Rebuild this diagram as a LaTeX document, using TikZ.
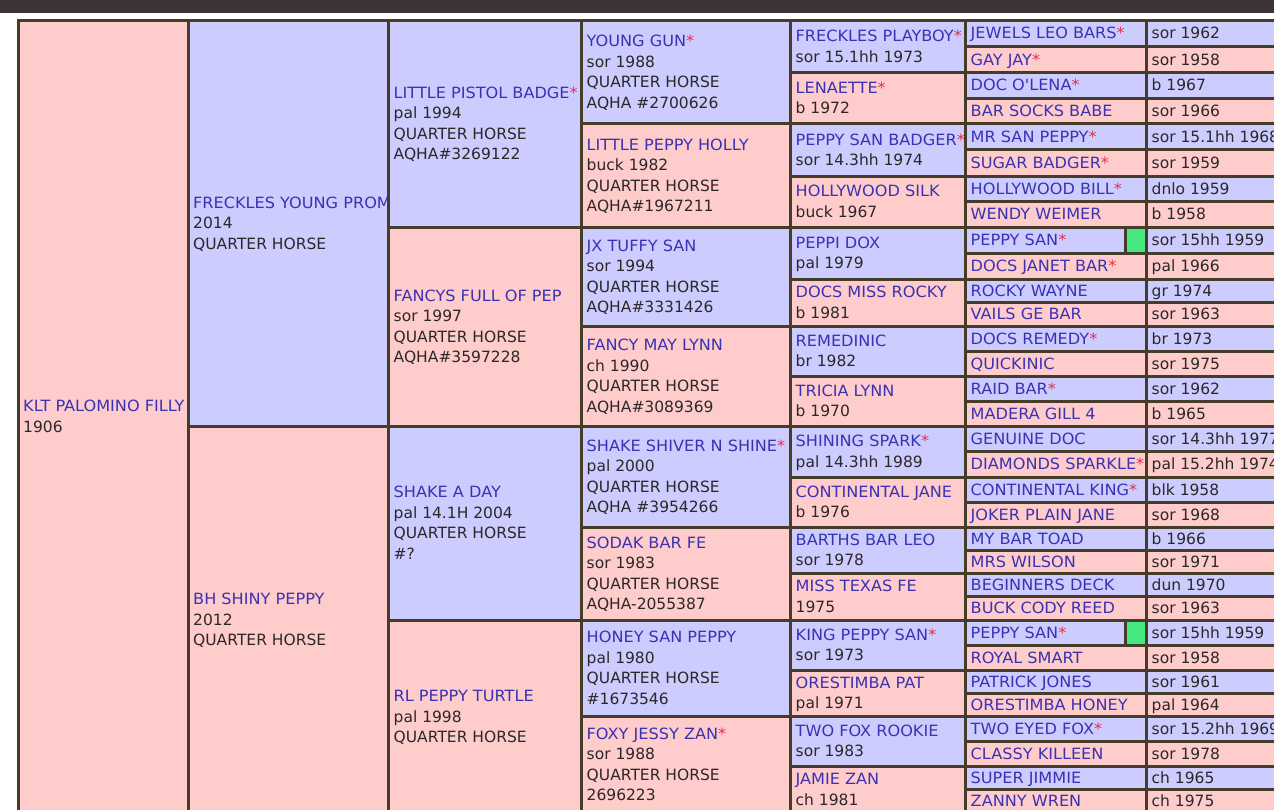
\documentclass[tikz,border=0pt]{standalone}
\usepackage{fontspec}
\setmainfont{DejaVu Sans}
\newfontfamily\namefont{DejaVu Sans}[FakeStretch=1.04]
\definecolor{sirefill}{RGB}{204,204,255}
\definecolor{damfill}{RGB}{255,204,204}
\definecolor{rule}{RGB}{70,60,42}
\definecolor{namecol}{RGB}{58,50,180}
\definecolor{infocol}{RGB}{44,40,40}
\definecolor{starcol}{RGB}{228,48,76}
\definecolor{topbar}{RGB}{60,52,57}
\definecolor{markgreen}{RGB}{70,232,128}
\newcommand\redstar{\textcolor{starcol}{*}}
\newcommand\hname[1]{{\namefont\textcolor{namecol}{#1}}}
\tikzset{
  cell/.style={draw=rule, line width=3pt},
  sire/.style={cell, fill=sirefill},
  dam/.style={cell, fill=damfill},
  info/.style={anchor=base west, align=left, inner sep=0pt, text=infocol,
    font=\fontsize{15.5}{20.5}\selectfont},
}
\begin{document}
\begin{tikzpicture}[x=1pt,y=-1pt]
\useasboundingbox (0,0) rectangle (1274,809);
\clip (0,0) rectangle (1274,809);
\fill[white] (0,0) rectangle (1274,809);
\fill[topbar] (0,0) rectangle (1274,13);

% the filly (last baseline = middle + ((lines-1)*20.5+11.3)/2)
\draw[dam] (18,20) rectangle (188,813);
\node[info] (filly) at (23,432.4) {\hname{KLT PALOMINO FILLY}\\1906};

% parents
\foreach \ya/\yb/\kind/\lab [count=\i] in {
  20/426/sire/{\hname{FRECKLES YOUNG PROM}\\2014\\QUARTER HORSE},
  426/813/dam/{\hname{BH SHINY PEPPY}\\2012\\QUARTER HORSE}}
{
  \draw[\kind] (188,\ya) rectangle (388,\yb);
  \node[info] (par\i) at (193,{(\ya+\yb)/2+26.15}) {\lab};
}

% grandparents
\foreach \ya/\yb/\kind/\n/\lab [count=\i] in {
  20/227/sire/4/{\hname{LITTLE PISTOL BADGE\redstar}\\pal 1994\\QUARTER HORSE\\AQHA\#3269122},
  227/426/dam/4/{\hname{FANCYS FULL OF PEP}\\sor 1997\\QUARTER HORSE\\AQHA\#3597228},
  426/620/sire/4/{\hname{SHAKE A DAY}\\pal 14.1H 2004\\QUARTER HORSE\\\#?},
  620/813/dam/3/{\hname{RL PEPPY TURTLE}\\pal 1998\\QUARTER HORSE}}
{
  \draw[\kind] (388,\ya) rectangle (581.5,\yb);
  \node[info] (gp\i) at (393.5,{(\ya+\yb)/2+((\n-1)*20.5+11.3)/2}) {\lab};
}

% great-grandparents
\foreach \ya/\yb/\kind/\lab [count=\i] in {
  20/123.5/sire/{\hname{YOUNG GUN\redstar}\\sor 1988\\QUARTER HORSE\\AQHA \#2700626},
  123.5/227/dam/{\hname{LITTLE PEPPY HOLLY}\\buck 1982\\QUARTER HORSE\\AQHA\#1967211},
  227/326/sire/{\hname{JX TUFFY SAN}\\sor 1994\\QUARTER HORSE\\AQHA\#3331426},
  326/426/dam/{\hname{FANCY MAY LYNN}\\ch 1990\\QUARTER HORSE\\AQHA\#3089369},
  426/527/sire/{\hname{SHAKE SHIVER N SHINE\redstar}\\pal 2000\\QUARTER HORSE\\AQHA \#3954266},
  527/620/dam/{\hname{SODAK BAR FE}\\sor 1983\\QUARTER HORSE\\AQHA-2055387},
  620/716/sire/{\hname{HONEY SAN PEPPY}\\pal 1980\\QUARTER HORSE\\\#1673546},
  716/813/dam/{\hname{FOXY JESSY ZAN\redstar}\\sor 1988\\QUARTER HORSE\\2696223}}
{
  \draw[\kind] (581.5,\ya) rectangle (790.5,\yb);
  \node[info] (ggp\i) at (586.5,{(\ya+\yb)/2+36.4}) {\lab};
}

% 4th generation
\foreach \ya/\yb/\lab [count=\i] in {
  20/72.5/{\hname{FRECKLES PLAYBOY\redstar}\\sor 15.1hh 1973},
  72.5/123.5/{\hname{LENAETTE\redstar}\\b 1972},
  123.5/176/{\hname{PEPPY SAN BADGER\redstar}\\sor 14.3hh 1974},
  176/227/{\hname{HOLLYWOOD SILK}\\buck 1967},
  227/279/{\hname{PEPPI DOX}\\pal 1979},
  279/326/{\hname{DOCS MISS ROCKY}\\b 1981},
  326/376/{\hname{REMEDINIC}\\br 1982},
  376/426/{\hname{TRICIA LYNN}\\b 1970},
  426/477/{\hname{SHINING SPARK\redstar}\\pal 14.3hh 1989},
  477/527/{\hname{CONTINENTAL JANE}\\b 1976},
  527/573/{\hname{BARTHS BAR LEO}\\sor 1978},
  573/620/{\hname{MISS TEXAS FE}\\1975},
  620/670/{\hname{KING PEPPY SAN\redstar}\\sor 1973},
  670/716/{\hname{ORESTIMBA PAT}\\pal 1971},
  716/766/{\hname{TWO FOX ROOKIE}\\sor 1983},
  766/813/{\hname{JAMIE ZAN}\\ch 1981}}
{
  \ifodd\i \def\kind{sire}\else \def\kind{dam}\fi
  \draw[\kind] (790.5,\ya) rectangle (965.5,\yb);
  \node[info] (g4n\i) at (795.5,{(\ya+\yb)/2+15.9}) {\lab};
}

% 5th generation: name and colour/year
\foreach \ya/\yb/\nm/\inf [count=\i] in {
  20/46.25/{JEWELS LEO BARS\redstar}/{sor 1962},
  46.25/72.5/{GAY JAY\redstar}/{sor 1958},
  72.5/98/{DOC O'LENA\redstar}/{b 1967},
  98/123.5/{BAR SOCKS BABE}/{sor 1966},
  123.5/149.75/{MR SAN PEPPY\redstar}/{sor 15.1hh 1968},
  149.75/176/{SUGAR BADGER\redstar}/{sor 1959},
  176/201.5/{HOLLYWOOD BILL\redstar}/{dnlo 1959},
  201.5/227/{WENDY WEIMER}/{b 1958},
  227/253/{PEPPY SAN\redstar}/{sor 15hh 1959},
  253/279/{DOCS JANET BAR\redstar}/{pal 1966},
  279/302.5/{ROCKY WAYNE}/{gr 1974},
  302.5/326/{VAILS GE BAR}/{sor 1963},
  326/351/{DOCS REMEDY\redstar}/{br 1973},
  351/376/{QUICKINIC}/{sor 1975},
  376/401/{RAID BAR\redstar}/{sor 1962},
  401/426/{MADERA GILL 4}/{b 1965},
  426/451.5/{GENUINE DOC}/{sor 14.3hh 1977},
  451.5/477/{DIAMONDS SPARKLE\redstar}/{pal 15.2hh 1974},
  477/502/{CONTINENTAL KING\redstar}/{blk 1958},
  502/527/{JOKER PLAIN JANE}/{sor 1968},
  527/550/{MY BAR TOAD}/{b 1966},
  550/573/{MRS WILSON}/{sor 1971},
  573/596.5/{BEGINNERS DECK}/{dun 1970},
  596.5/620/{BUCK CODY REED}/{sor 1963},
  620/645/{PEPPY SAN\redstar}/{sor 15hh 1959},
  645/670/{ROYAL SMART}/{sor 1958},
  670/693/{PATRICK JONES}/{sor 1961},
  693/716/{ORESTIMBA HONEY}/{pal 1964},
  716/741/{TWO EYED FOX\redstar}/{sor 15.2hh 1969},
  741/766/{CLASSY KILLEEN}/{sor 1978},
  766/789.5/{SUPER JIMMIE}/{ch 1965},
  789.5/813/{ZANNY WREN}/{ch 1975}}
{
  \ifodd\i \def\kind{sire}\else \def\kind{dam}\fi
  \draw[\kind] (965.5,\ya) rectangle (1146.5,\yb);
  \draw[\kind] (1146.5,\ya) rectangle (1290,\yb);
  \node[info] (g5n\i) at (970.5,{(\ya+\yb)/2+5.65}) {\hname{\nm}};
  \node[info] (g5d\i) at (1151.5,{(\ya+\yb)/2+5.65}) {\inf};
}

% green marks beside PEPPY SAN
\draw[cell, fill=markgreen] (1125,227) rectangle (1146.5,253);
\draw[cell, fill=markgreen] (1125,620) rectangle (1146.5,645);
\end{tikzpicture}
\end{document}
